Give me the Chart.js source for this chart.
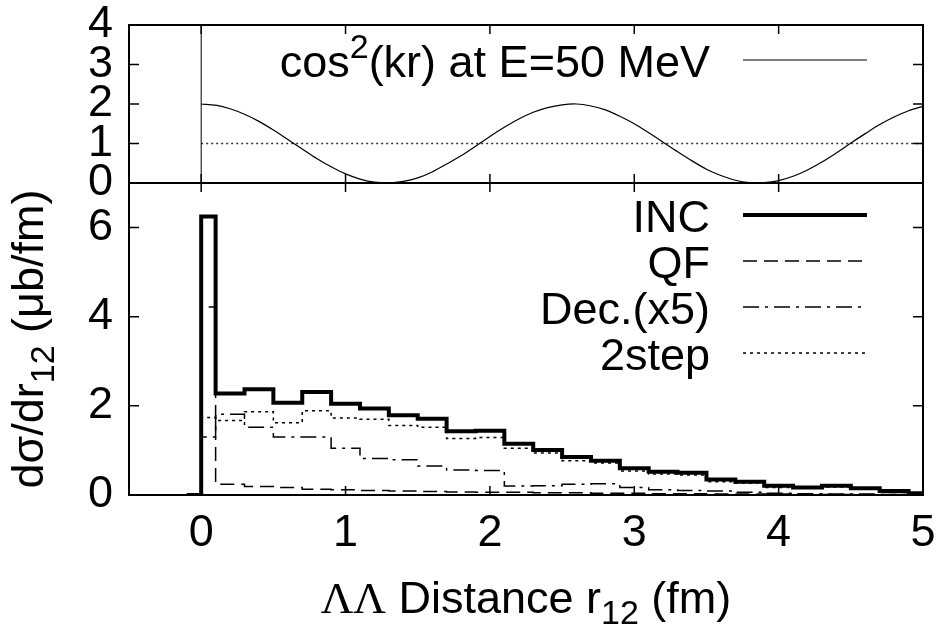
<!DOCTYPE html>
<html>
<head>
<meta charset="utf-8">
<script src="https://cdn.jsdelivr.net/npm/chart.js@4.4.1/dist/chart.umd.min.js"></script>
<style>
  body { margin: 0; background: #fff; }
</style>
</head>
<body>
<canvas id="myChart" width="939" height="638"></canvas>
<script>
// histogram bin edges (fm)
const binEdges = [-0.1, 0, 0.1, 0.3, 0.5, 0.7, 0.9, 1.1, 1.3, 1.5, 1.7, 1.9, 2.1, 2.3, 2.5, 2.7, 2.9, 3.1, 3.3, 3.5, 3.7, 3.9, 4.1, 4.3, 4.5, 4.7, 4.9, 5.0];

// one value per bin (ub/fm)
const incVals  = [0, 6.25, 2.28, 2.37, 2.07, 2.31, 2.05, 1.94, 1.79, 1.71, 1.43, 1.44, 1.15, 1.01, 0.85, 0.77, 0.60, 0.52, 0.50, 0.35, 0.30, 0.21, 0.17, 0.21, 0.15, 0.09, 0.04];
const qfVals   = [0, 4.22, 0.24, 0.19, 0.17, 0.13, 0.12, 0.10, 0.09, 0.08, 0.07, 0.06, 0.06, 0.05, 0.05, 0.04, 0.04, 0.03, 0.03, 0.02, 0.02, 0.02, 0.01, 0.01, 0.01, 0.01, 0.00];
const decVals  = [0, 1.30, 1.81, 1.52, 1.30, 1.30, 1.05, 0.82, 0.79, 0.65, 0.56, 0.55, 0.20, 0.21, 0.24, 0.25, 0.17, 0.12, 0.10, 0.09, 0.06, 0.04, 0.03, 0.02, 0.02, 0.01, 0.01];
const stepVals = [0, 1.74, 1.67, 1.87, 1.62, 1.89, 1.73, 1.70, 1.56, 1.52, 1.27, 1.29, 1.05, 0.94, 0.77, 0.72, 0.54, 0.47, 0.45, 0.30, 0.27, 0.17, 0.15, 0.18, 0.13, 0.08, 0.04];

// top panel: cos^2(kr) curve
const cosR = [0, 0.1, 0.2, 0.3, 0.4, 0.5, 0.6, 0.7, 0.8, 0.9, 1.0, 1.1, 1.2, 1.3, 1.4, 1.5, 1.6, 1.7, 1.8, 1.9, 2.0, 2.1, 2.2, 2.3, 2.4, 2.5, 2.6, 2.7, 2.8, 2.9, 3.0, 3.1, 3.2, 3.3, 3.4, 3.5, 3.6, 3.7, 3.8, 3.9, 4.0, 4.1, 4.2, 4.3, 4.4, 4.5, 4.6, 4.7, 4.8, 4.9, 5.0];
const cosVals = [2.00, 1.97, 1.88, 1.74, 1.56, 1.34, 1.10, 0.86, 0.62, 0.41, 0.23, 0.10, 0.02, 0.00, 0.04, 0.13, 0.28, 0.48, 0.69, 0.93, 1.18, 1.41, 1.62, 1.79, 1.91, 1.98, 2.00, 1.95, 1.85, 1.69, 1.50, 1.27, 1.03, 0.79, 0.56, 0.35, 0.19, 0.07, 0.01, 0.01, 0.06, 0.17, 0.33, 0.53, 0.76, 1.01, 1.25, 1.48, 1.67, 1.83, 1.94];
const refR = [0, 5];
const refVals = [1, 1];

const xTicks = [0, 1, 2, 3, 4, 5];
const yTopTicks = [0, 1, 2, 3, 4];
const yBotTicks = [0, 2, 4, 6];

const FONT = 'Liberation Sans';
const FS = 45;

function stepPoints(vals) {
  let pts = vals.map((v, i) => ({x: binEdges[i], y: v}));
  pts.push({x: binEdges[binEdges.length - 1], y: vals[vals.length - 1]});
  return pts;
}

function drawRich(ctx, parts, x, y, align) {
  // parts: [text, size, dy, family]
  let total = 0;
  parts.forEach(p => {
    ctx.font = p[1] + 'px "' + (p[3] || FONT) + '"';
    total += ctx.measureText(p[0]).width;
  });
  let cx = x;
  if (align == 'right') cx = x - total;
  if (align == 'center') cx = x - total / 2;
  parts.forEach(p => {
    ctx.font = p[1] + 'px "' + (p[3] || FONT) + '"';
    ctx.fillText(p[0], cx, y + p[2]);
    cx += ctx.measureText(p[0]).width;
  });
}

const keyTop = [
  {parts: [['cos', FS, 0], ['2', 34, -19], ['(kr) at E=50 MeV', FS, 0]], width: 1.2, dash: []}
];
const keyBot = [
  {parts: [['INC', FS, 0]], width: 4, dash: []},
  {parts: [['QF', FS, 0]], width: 1.5, dash: [14, 7]},
  {parts: [['Dec.(x5)', FS, 0]], width: 1.5, dash: [16, 6, 3, 6]},
  {parts: [['2step', FS, 0]], width: 1.5, dash: [3, 4]}
];

const framePlugin = {
  id: 'frames',
  afterDatasetsDraw(chart) {
    const ctx = chart.ctx;
    const area = chart.chartArea;
    const xs = chart.scales.x;
    const yt = chart.scales.yTop;
    const yb = chart.scales.yBot;
    ctx.save();
    ctx.strokeStyle = '#000';
    ctx.fillStyle = '#000';

    // zero axis of the top panel
    ctx.lineWidth = 1;
    let x0 = xs.getPixelForValue(0);
    ctx.beginPath();
    ctx.moveTo(x0, yt.top);
    ctx.lineTo(x0, yt.bottom);
    ctx.stroke();

    [yt, yb].forEach(ys => {
      ctx.lineWidth = 2;
      ctx.strokeRect(area.left, ys.top, area.right - area.left, ys.bottom - ys.top);
      ctx.lineWidth = 1.5;
      ctx.beginPath();
      xTicks.forEach(v => {
        let px = xs.getPixelForValue(v);
        ctx.moveTo(px, ys.top); ctx.lineTo(px, ys.top + 9);
        ctx.moveTo(px, ys.bottom); ctx.lineTo(px, ys.bottom - 9);
      });
      ys.ticks.forEach(t => {
        let py = ys.getPixelForValue(t.value);
        ctx.moveTo(area.left, py); ctx.lineTo(area.left + 10, py);
        ctx.moveTo(area.right, py); ctx.lineTo(area.right - 10, py);
      });
      ctx.stroke();
    });

    // keys
    ctx.textBaseline = 'alphabetic';
    ctx.textAlign = 'left';
    let drawKey = (rows, top) => {
      rows.forEach((r, i) => {
        let base = top + i * 46;
        drawRich(ctx, r.parts, area.right - 213, base, 'right');
        ctx.lineWidth = r.width;
        ctx.setLineDash(r.dash);
        ctx.beginPath();
        ctx.moveTo(area.right - 180, base - 17);
        ctx.lineTo(area.right - 56, base - 17);
        ctx.stroke();
        ctx.setLineDash([]);
      });
    };
    drawKey(keyTop, yt.top + 52);
    drawKey(keyBot, yb.top + 49);

    // axis titles
    drawRich(ctx, [['ΛΛ', FS, 0, 'Liberation Serif'], [' Distance r', FS, 0], ['12', 34, 11], [' (fm)', FS, 0]],
      (area.left + area.right) / 2, 613, 'center');

    ctx.translate(43, (yb.top + yb.bottom) / 2);
    ctx.rotate(-Math.PI / 2);
    drawRich(ctx, [['dσ/dr', FS, 0], ['12', 34, 11], [' (μb/fm)', FS, 0]], 0, 0, 'center');
    ctx.restore();
  }
};

const tickFont = {family: FONT, size: FS};

function fixY(s) {
  s.width = 129;
  s.paddingTop = 0;
  s.paddingBottom = 0;
}

const ctx = document.getElementById('myChart').getContext('2d');
const myChart = new Chart(ctx, {
  type: 'line',
  data: {
    datasets: [
      {label: 'INC', data: stepPoints(incVals), yAxisID: 'yBot', stepped: true, borderColor: '#000', borderWidth: 4, pointRadius: 0, fill: false},
      {label: 'QF', data: stepPoints(qfVals), yAxisID: 'yBot', stepped: true, borderColor: '#000', borderWidth: 1.5, borderDash: [14, 7], pointRadius: 0, fill: false},
      {label: 'Dec.(x5)', data: stepPoints(decVals), yAxisID: 'yBot', stepped: true, borderColor: '#000', borderWidth: 1.5, borderDash: [16, 6, 3, 6], pointRadius: 0, fill: false},
      {label: '2step', data: stepPoints(stepVals), yAxisID: 'yBot', stepped: true, borderColor: '#000', borderWidth: 1.5, borderDash: [3, 4], pointRadius: 0, fill: false},
      {label: 'cos2', data: cosR.map((r, i) => ({x: r, y: cosVals[i]})), yAxisID: 'yTop', borderColor: '#000', borderWidth: 1.2, tension: 0.3, pointRadius: 0, fill: false},
      {label: 'one', data: refR.map((r, i) => ({x: r, y: refVals[i]})), yAxisID: 'yTop', borderColor: '#333', borderWidth: 1.3, borderDash: [2, 3], pointRadius: 0, fill: false}
    ]
  },
  options: {
    responsive: false,
    animation: false,
    devicePixelRatio: 1,
    layout: {padding: {top: 25, right: 16, left: 0, bottom: 0}},
    plugins: {legend: {display: false}, tooltip: {enabled: false}},
    scales: {
      x: {
        type: 'linear', min: -0.5, max: 5,
        ticks: {color: '#000', font: tickFont, padding: 12, maxRotation: 0, autoSkip: false},
        grid: {display: false, drawTicks: false},
        border: {display: false},
        afterBuildTicks: s => { s.ticks = xTicks.map(v => ({value: v})) },
        afterFit: s => { s.height = 143; s.paddingLeft = 0; s.paddingRight = 0 }
      },
      yTop: {
        type: 'linear', position: 'left', stack: 'panels', stackWeight: 158, weight: 2,
        min: 0, max: 4,
        ticks: {color: '#000', font: tickFont, padding: 16, autoSkip: false},
        grid: {display: false, drawTicks: false},
        border: {display: false},
        afterBuildTicks: s => { s.ticks = yTopTicks.map(v => ({value: v})) },
        afterFit: fixY
      },
      yBot: {
        type: 'linear', position: 'left', stack: 'panels', stackWeight: 312, weight: 1,
        min: 0, max: 7,
        ticks: {color: '#000', font: tickFont, padding: 16, autoSkip: false},
        grid: {display: false, drawTicks: false},
        border: {display: false},
        afterBuildTicks: s => { s.ticks = yBotTicks.map(v => ({value: v})) },
        afterFit: fixY
      }
    }
  },
  plugins: [framePlugin]
});
</script>
</body>
</html>
